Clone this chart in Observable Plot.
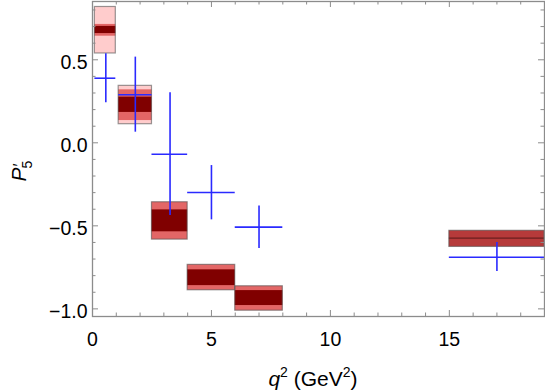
<!DOCTYPE html>
<html><head><meta charset="utf-8">
<script src="https://cdn.jsdelivr.net/npm/d3@7"></script>
<script src="https://cdn.jsdelivr.net/npm/@observablehq/plot@0.6"></script>
<style>body{margin:0;background:#fff;} #chart svg{display:block;}</style>
</head><body><div id="chart"></div>
<script>
// q^2 bins (GeV^2)
const binLo = [0.1, 1.1, 2.5, 4, 6, 15];
const binHi = [0.98, 2.5, 4, 6, 8, 19];
// theory bands: outer (light), middle, inner (dark)
const outerLo = [0.538, 0.112, -0.583, -0.888, -1.011, -0.627];
const outerHi = [0.818, 0.343, -0.358, -0.735, -0.864, -0.530];
const midLo   = [0.642, 0.134, -0.583, -0.888, -1.011, -0.627];
const midHi   = [0.713, 0.319, -0.358, -0.735, -0.864, -0.530];
const innerLo = [0.658, 0.183, -0.536, -0.860, -0.980, -0.581];
const innerHi = [0.701, 0.275, -0.404, -0.765, -0.890, -0.573];
// measurement points
const expQ2   = [0.56, 1.8, 3.26, 5.0, 7.0, 17.0];
const expP5   = [0.389, 0.289, -0.069, -0.299, -0.508, -0.689];
const expErrLo = [0.241, 0.064, -0.438, -0.464, -0.637, -0.775];
const expErrHi = [0.536, 0.516, 0.301, -0.137, -0.380, -0.601];
// axis ticks
const xTicks = [0, 5, 10, 15];
const yTicks = [-1.0, -0.5, 0.0, 0.5];
const xMinor = d3.range(0, 20, 1).filter(v => !xTicks.includes(v));
const yMinor = d3.range(-10, 9, 1).map(v => v / 10).filter(v => !yTicks.some(t => Math.abs(t - v) < 1e-9));

const boxes = binLo.map((lo, i) => ({i, x1: lo, x2: binHi[i],
  oLo: outerLo[i], oHi: outerHi[i], mLo: midLo[i], mHi: midHi[i], iLo: innerLo[i], iHi: innerHi[i]}));
const crosses = expQ2.map((q, i) => ({q, p: expP5[i], lo: binLo[i], hi: binHi[i], eLo: expErrLo[i], eHi: expErrHi[i]}));

const W = 545, H = 392, mL = 92, mR = 1, mT = 1, mB = 76;
const fH = H - mT - mB, fW = W - mL - mR;
const tickCol = "#8c8c8c", blue = "#2a2aff";
const majorLen = 6, minorLen = 3.5;

const chart = Plot.plot({
  width: W, height: H, marginLeft: mL, marginRight: mR, marginTop: mT, marginBottom: mB,
  x: {domain: [0, 19]},
  y: {domain: [-1.046, 0.851]},
  style: {fontFamily: "'Liberation Sans', Arial, sans-serif", fontSize: "19px", background: "white", color: "black"},
  marks: [
    Plot.rect(boxes, {x1: "x1", x2: "x2", y1: "oLo", y2: "oHi", fill: "#ffcccc"}),
    Plot.rect(boxes, {x1: "x1", x2: "x2", y1: "mLo", y2: "mHi", fill: d => d.i === 5 ? "#b63a3a" : "#e36666"}),
    Plot.rect(boxes, {x1: "x1", x2: "x2", y1: "iLo", y2: "iHi", fill: d => d.i === 5 ? "#6e2020" : "#800000"}),
    Plot.rect(boxes, {x1: "x1", x2: "x2", y1: "oLo", y2: "oHi", fill: "none", stroke: "#555", strokeOpacity: 0.6, strokeWidth: 1.2}),
    Plot.ruleY(crosses, {y: "p", x1: "lo", x2: "hi", stroke: blue, strokeWidth: 1.6}),
    Plot.ruleX(crosses, {x: "q", y1: "eLo", y2: "eHi", stroke: blue, strokeWidth: 1.6}),
    Plot.frame({stroke: tickCol, strokeWidth: 1.3}),
    // inward ticks on four sides
    Plot.tickX(xTicks, {x: d => d, insetTop: fH - majorLen, stroke: tickCol}),
    Plot.tickX(xMinor, {x: d => d, insetTop: fH - minorLen, stroke: tickCol}),
    Plot.tickX(xTicks, {x: d => d, insetBottom: fH - majorLen, stroke: tickCol}),
    Plot.tickX(xMinor, {x: d => d, insetBottom: fH - minorLen, stroke: tickCol}),
    Plot.tickY(yTicks, {y: d => d, insetRight: fW - majorLen, stroke: tickCol}),
    Plot.tickY(yMinor, {y: d => d, insetRight: fW - minorLen, stroke: tickCol}),
    Plot.tickY(yTicks, {y: d => d, insetLeft: fW - majorLen, stroke: tickCol}),
    Plot.tickY(yMinor, {y: d => d, insetLeft: fW - minorLen, stroke: tickCol}),
    Plot.axisX({ticks: xTicks, tickSize: 0, tickPadding: 16, tickFormat: d => String(d), label: null, fontSize: 19.5}),
    Plot.axisY({ticks: yTicks, tickSize: 0, tickPadding: 5, tickFormat: d3.format(".1f"), label: null, fontSize: 19.5, dy: 3})
  ]
});
document.getElementById("chart").appendChild(chart);

const svg = d3.select(chart);
// y label  P'_5
const yl = svg.append("text")
  .attr("transform", "translate(26,171) rotate(-90)")
  .attr("font-family", "'Liberation Sans', Arial, sans-serif")
  .attr("font-size", 21).attr("fill", "black");
yl.append("tspan").attr("font-style", "italic").text("P");
yl.append("tspan").attr("dx", 1).attr("dy", -1).attr("font-size", 16).text("\u2032");
yl.append("tspan").attr("dx", -5).attr("dy", 7).attr("font-size", 14).text("5");
// x label  q^2 (GeV^2)
const xl = svg.append("text")
  .attr("x", 313).attr("y", 386).attr("text-anchor", "middle")
  .attr("font-family", "'Liberation Sans', Arial, sans-serif")
  .attr("font-size", 21).attr("fill", "black");
xl.append("tspan").attr("font-style", "italic").text("q");
xl.append("tspan").attr("dy", -9).attr("font-size", 14).text("2");
xl.append("tspan").attr("dy", 9).text(" (GeV");
xl.append("tspan").attr("dy", -9).attr("font-size", 14).text("2");
xl.append("tspan").attr("dy", 9).text(")");
</script>
</body></html>
